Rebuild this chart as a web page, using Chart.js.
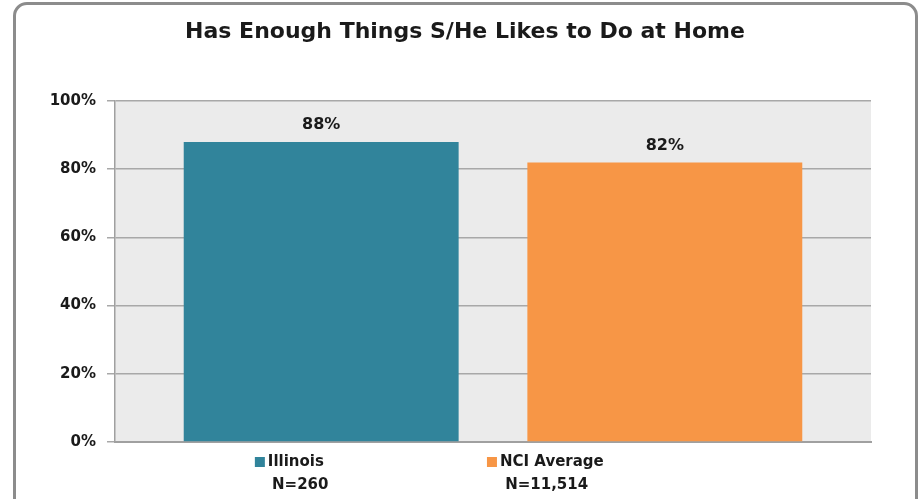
<!DOCTYPE html>
<html>
<head>
<meta charset="utf-8">
<script src="https://cdn.jsdelivr.net/npm/chart.js@4/dist/chart.umd.min.js"></script>
<style>
  html, body { margin: 0; padding: 0; background: #fff; overflow: hidden; }
  #wrap { position: relative; width: 924px; height: 499px; }
  #frame {
    position: absolute; left: 13px; top: 2px; width: 905px; height: 530px;
    border: 3px solid #8c8c8c; border-radius: 14px; box-sizing: border-box;
  }
  canvas { position: absolute; left: 0; top: 0; }
</style>
</head>
<body>
<div id="wrap">
  <div id="frame"></div>
  <canvas id="chart" width="924" height="499"></canvas>
</div>
<script>
// chart data
const title = 'Has Enough Things S/He Likes to Do at Home';
const categories = ['Illinois', 'NCI Average'];
const sampleSizes = ['N=260', 'N=11,514'];
const values = [88, 82];
const barColors = ['#31849b', '#f79646'];
const yTicks = [0, 20, 40, 60, 80, 100];

const FONT = '"DejaVu Sans", sans-serif';

// title, value labels above bars, legend rows under the axis
const labelsPlugin = {
  id: 'labels',
  afterDatasetsDraw(chart) {
    const ctx = chart.ctx;
    const meta = chart.getDatasetMeta(0);
    ctx.save();
    ctx.fillStyle = '#1a1a1a';
    ctx.textBaseline = 'middle';

    ctx.font = 'bold 22px ' + FONT;
    ctx.textAlign = 'center';
    ctx.fillText(title, chart.width / 2 + 3, 32);

    ctx.font = 'bold 16px ' + FONT;
    meta.data.forEach((bar, i) => {
      ctx.fillText(values[i] + '%', bar.x, bar.y - 17);
    });

    // legend, spread like the original
    const area = chart.chartArea;
    const w = area.right - area.left;
    const squareAt = [0.185, 0.492];
    const nAt = [0.245, 0.571];
    ctx.font = 'bold 15px ' + FONT;
    categories.forEach((name, i) => {
      const x0 = area.left + squareAt[i] * w;
      ctx.fillStyle = barColors[i];
      ctx.fillRect(x0, area.bottom + 15, 10, 10);
      ctx.fillStyle = '#1a1a1a';
      ctx.textAlign = 'left';
      ctx.fillText(name, x0 + 13, area.bottom + 20);
      ctx.textAlign = 'center';
      ctx.fillText(sampleSizes[i], area.left + nAt[i] * w, area.bottom + 43);
    });
    ctx.restore();
  }
};

// plot area background
const bgPlugin = {
  id: 'plotBg',
  beforeDraw(chart) {
    const a = chart.chartArea;
    chart.ctx.save();
    chart.ctx.fillStyle = '#ebebeb';
    chart.ctx.fillRect(a.left, a.top, a.right - a.left, a.bottom - a.top);
    chart.ctx.restore();
  }
};

new Chart(document.getElementById('chart').getContext('2d'), {
  type: 'bar',
  data: {
    datasets: [{
      data: values.map((v, i) => ({ x: i, y: v })),
      backgroundColor: barColors,
      borderWidth: 0,
      barPercentage: 1,
      categoryPercentage: 0.8
    }]
  },
  options: {
    responsive: false,
    animation: false,
    layout: { padding: { left: 0, right: 53, top: 101, bottom: 0 } },
    scales: {
      x: {
        type: 'linear',
        min: -0.6,
        max: 1.6,
        offset: false,
        afterBuildTicks(scale) { scale.ticks = categories.map((c, i) => ({ value: i })); },
        grid: { display: false },
        border: { display: true, color: '#a0a0a0', width: 2 },
        ticks: { display: false },
        afterFit(scale) { scale.height = 57; }
      },
      y: {
        min: 0,
        max: 100,
        afterBuildTicks(scale) { scale.ticks = yTicks.map(v => ({ value: v })); },
        grid: { color: '#a8a8a8', lineWidth: 1.5, tickLength: 8 },
        border: { display: true, color: '#a0a0a0', width: 1.5 },
        ticks: {
          color: '#1a1a1a',
          font: { family: FONT, size: 15, weight: 'bold' },
          padding: 11,
          callback: v => v + '%'
        },
        afterFit(scale) { scale.width = 115; }
      }
    },
    plugins: {
      legend: { display: false },
      tooltip: { enabled: false },
      title: { display: false }
    }
  },
  plugins: [bgPlugin, labelsPlugin]
});
</script>
</body>
</html>
